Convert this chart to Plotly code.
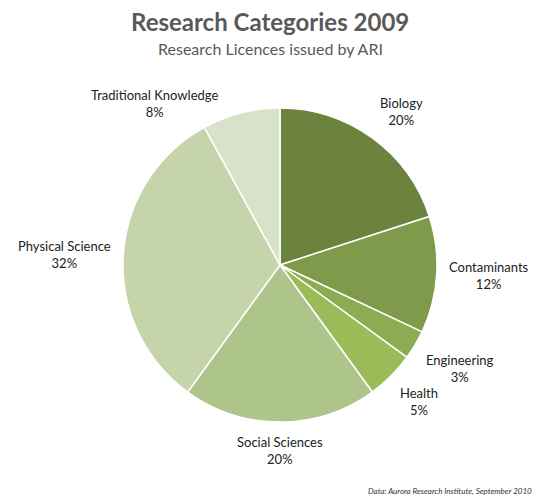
import math
import plotly.graph_objects as go

categories = ["Biology", "Contaminants", "Engineering", "Health",
              "Social Sciences", "Physical Science", "Traditional Knowledge"]
values = [20, 12, 3, 5, 20, 32, 8]
colors = ["#6b833d", "#7f9a4a", "#8cab52", "#9bbb59", "#adc48a", "#c5d4ab", "#d7e2c8"]

W, H = 540, 502
cx, cy, r = 280, 265, 157
FONT = "Lato, Open Sans, sans-serif"

fig = go.Figure(go.Pie(
    labels=categories,
    values=values,
    sort=False,
    direction="clockwise",
    rotation=0,
    marker=dict(colors=colors, line=dict(color="white", width=1.5)),
    textinfo="none",
    hoverinfo="label+percent",
    domain=dict(x=[(cx - r) / W, (cx + r) / W], y=[(H - cy - r) / H, (H - cy + r) / H]),
    showlegend=False,
    automargin=False,
))

# data labels placed outside each slice, at the slice's mid-angle
annotations = []
total = sum(values)
cum = 0
off = 10
for lab, v in zip(categories, values):
    mid = (cum + v / 2) / total * 2 * math.pi
    cum += v
    s, c = math.sin(mid), math.cos(mid)
    px = cx + (r + off) * s
    py = cy - (r + off) * c
    if s > 0.3:
        xa = "left"
    elif s < -0.2:
        xa = "right"
    else:
        xa = "center"
    if c > 0.9 and s < -0.2:
        xa, ya, xs = "right", "middle", -18
    elif c > 0.3:
        ya, xs = "bottom", 0
    elif c < -0.3:
        ya, xs = "top", 0
    else:
        ya, xs = "middle", 0
    annotations.append(dict(
        text=f"{lab}<br>{round(v / total * 100)}%", x=px / W, y=1 - py / H,
        xref="paper", yref="paper", xanchor=xa, yanchor=ya, align="center", xshift=xs,
        showarrow=False, font=dict(family=FONT, size=13, color="#222222")))

annotations += [
    dict(text="<b>Research Categories 2009</b>", x=0.5, y=1 - 22 / H, xref="paper", yref="paper",
         yanchor="middle", showarrow=False, font=dict(family=FONT, size=24, color="#595959")),
    dict(text="Research Licences issued by ARI", x=0.5, y=1 - 48 / H, xref="paper", yref="paper",
         yanchor="middle", showarrow=False, font=dict(family=FONT, size=16, color="#595959")),
    dict(text="<i>Data: Aurora Research Institute, September 2010</i>", x=1 - 6 / W, y=11 / H,
         xref="paper", yref="paper", xanchor="right", yanchor="middle", showarrow=False,
         font=dict(family="Liberation Sans Narrow, Lato, sans-serif", size=8, color="#333333")),
]

fig.update_layout(
    width=W, height=H,
    margin=dict(l=0, r=0, t=0, b=0),
    paper_bgcolor="white",
    plot_bgcolor="white",
    annotations=annotations,
)

fig.write_html("out.html")
